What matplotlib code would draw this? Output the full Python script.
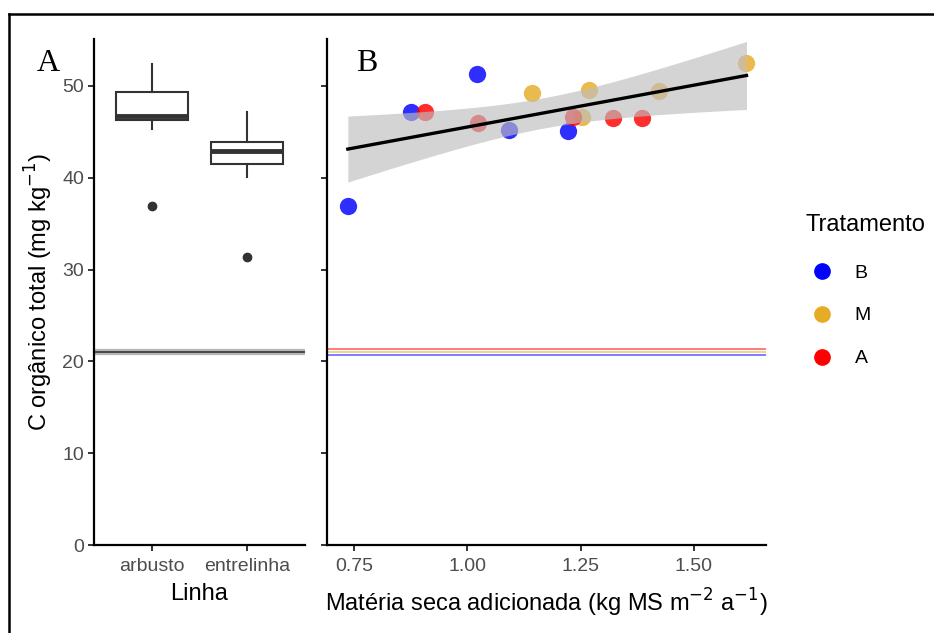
#Imports
import numpy as np
import matplotlib
matplotlib.use("Agg")
import matplotlib.pyplot as plt
from matplotlib.lines import Line2D

plt.rcParams["font.family"] = ["Liberation Sans", "DejaVu Sans"]

#Panel A data: boxplot summaries per row type
linha = ["arbusto", "entrelinha"]
whislo = [45.3, 40.1]
q1 = [46.3, 41.5]
med = [46.7, 42.95]
q3 = [49.3, 43.9]
whishi = [52.4, 47.2]
outliers = [[36.9], [31.4]]
ref_A = 21.0  #reference line in panel A

#Panel B data: added dry matter vs organic C per treatment
trat = ["B", "M", "A"]
cores = ["#0000FF", "#E6AC25", "#FF0000"]
ms_B = [0.736, 0.876, 1.021, 1.092, 1.221]
c_B = [36.9, 47.2, 51.3, 45.2, 45.1]
ms_M = [1.143, 1.252, 1.268, 1.423, 1.616]
c_M = [49.2, 46.6, 49.5, 49.4, 52.5]
ms_A = [0.907, 1.024, 1.232, 1.321, 1.386]
c_A = [47.2, 46.0, 46.6, 46.5, 46.5]
ref_B = [20.65, 21.0, 21.3]  #reference lines per treatment (B, M, A)

#Figure
fig = plt.figure(figsize=(9.34, 6.33), dpi=100)
axA = fig.add_axes([0.1006, 0.139, 0.226, 0.7994])
axB = fig.add_axes([0.3501, 0.139, 0.470, 0.7994])

tick_col = "#4D4D4D"
for ax in (axA, axB):
    for s in ("top", "right"):
        ax.spines[s].set_visible(False)
    for s in ("left", "bottom"):
        ax.spines[s].set_linewidth(1.6)
    ax.tick_params(direction="out", length=4, width=1.4, color="#333333",
                   labelcolor=tick_col, labelsize=14)
    ax.tick_params(axis="x", pad=5)
    ax.tick_params(axis="y", pad=3)
    ax.set_ylim(0, 55.1)
    ax.set_yticks([0, 10, 20, 30, 40, 50])

#Panel A: boxplots
stats = []
for i in range(len(linha)):
    stats.append(dict(med=med[i], q1=q1[i], q3=q3[i], whislo=whislo[i],
                      whishi=whishi[i], fliers=outliers[i], label=linha[i]))
axA.bxp(stats, positions=[1, 2], widths=0.75, showcaps=False, patch_artist=True,
        boxprops=dict(facecolor="white", edgecolor="#333333", linewidth=1.5),
        medianprops=dict(color="#333333", linewidth=3.5),
        whiskerprops=dict(color="#333333", linewidth=1.5),
        flierprops=dict(marker="o", markerfacecolor="#333333",
                        markeredgecolor="#333333", markersize=6))
axA.axhline(ref_A, color="#999999", lw=4.5, alpha=0.7, zorder=1)
axA.axhline(ref_A, color="#333333", lw=1.2, zorder=1)
axA.set_xlim(0.4, 2.6)
axA.set_ylabel(r"C orgânico total (mg kg$^{-1}$)", fontsize=17, labelpad=5)
axA.set_xlabel("Linha", fontsize=17, labelpad=6)

#Panel B: scatter + linear fit with 95% CI
ms_all = np.array(ms_B + ms_M + ms_A)
c_all = np.array(c_B + c_M + c_A)
b, a = np.polyfit(ms_all, c_all, 1)
n = len(ms_all)
resid = c_all - (a + b * ms_all)
s_err = np.sqrt(np.sum(resid**2) / (n - 2))
xx = np.linspace(ms_all.min(), ms_all.max(), 100)
yy = a + b * xx
se = s_err * np.sqrt(1 / n + (xx - ms_all.mean())**2 / np.sum((ms_all - ms_all.mean())**2))
t_crit = 2.16  #t(0.975, df=13)
axB.fill_between(xx, yy - t_crit * se, yy + t_crit * se, color="#BEBEBE", alpha=0.65, lw=0, zorder=3)

for xs, ys, col, lab in zip([ms_B, ms_M, ms_A], [c_B, c_M, c_A], cores, trat):
    axB.scatter(xs, ys, s=155, color=col, alpha=0.82, lw=0, label=lab, zorder=2)
axB.plot(xx, yy, color="black", lw=2.4, zorder=4)

for yv, col in zip(ref_B, cores):
    axB.axhline(yv, color=col, lw=1.2, alpha=0.6, zorder=1)

axB.set_xlim(0.69, 1.659)
axB.set_xticks([0.75, 1.00, 1.25, 1.50])
axB.set_xticklabels(["0.75", "1.00", "1.25", "1.50"])
axB.set_yticklabels([])
axB.set_xlabel(r"Matéria seca adicionada (kg MS m$^{-2}$ a$^{-1}$)", fontsize=17, labelpad=9)

#Panel letters
fig.text(37 / 934, 1 - 49 / 633, "A", fontsize=23, family="Liberation Serif", va="top")
fig.text(356 / 934, 1 - 49 / 633, "B", fontsize=23, family="Liberation Serif", va="top")

#Legend
fig.text(805 / 934, 1 - 225 / 633, "Tratamento", fontsize=17, va="center")
handles = [Line2D([], [], marker="o", ls="", markersize=11, color=c) for c in cores]
fig.legend(handles, trat, loc="upper left", bbox_to_anchor=(812 / 934, 1 - 264 / 633),
           frameon=False, fontsize=14, labelspacing=1.3, handlelength=1.0,
           handletextpad=1.2, borderaxespad=0, borderpad=0)

#Outer frame (top and left only, cropped picture)
fig.add_artist(Line2D([8.5 / 934, 1], [1 - 13.5 / 633] * 2, color="black", lw=1.8))
fig.add_artist(Line2D([8.5 / 934] * 2, [0, 1 - 13.5 / 633], color="black", lw=1.8))

fig.savefig("out.png", dpi=100)
